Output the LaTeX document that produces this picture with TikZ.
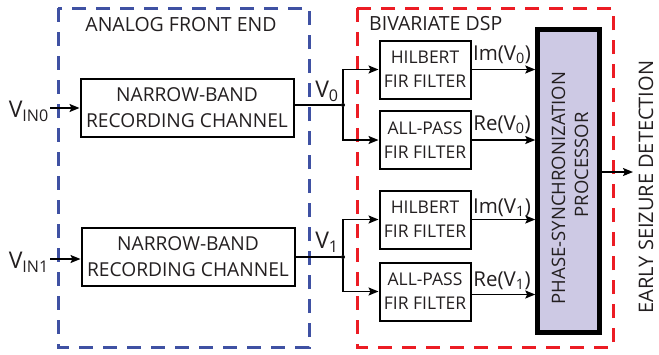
\documentclass[tikz,border=0pt]{standalone}
\usepackage{fontspec}
\setmainfont{Open Sans}
\usetikzlibrary{arrows.meta,calc}
\definecolor{afeblue}{RGB}{63,81,163}
\definecolor{dspred}{RGB}{236,28,36}
\definecolor{procfill}{RGB}{205,201,228}
\definecolor{txt}{RGB}{35,31,32}
\tikzset{
  blk/.style={draw=black,line width=2pt,rectangle,align=center,inner sep=0pt,text=txt},
  chbox/.style={blk,minimum width=213pt,minimum height=58pt,font=\fontsize{19.2}{26}\selectfont},
  firbox/.style={blk,minimum width=91pt,minimum height=58pt,font=\fontsize{17.5}{24}\selectfont},
  grp/.style={line width=3pt,dash pattern=on 14pt off 10pt},
  wire/.style={line width=1.6pt},
  arr/.style={wire,-{Stealth[length=10pt,width=8pt,inset=2pt]}},
  lbl/.style={text=txt,inner sep=0pt,font=\fontsize{20.5}{22}\selectfont},
  vlbl/.style={text=txt,inner sep=0pt,font=\fontsize{23}{24}\selectfont},
  dot/.style={circle,fill=black,inner sep=0pt,minimum size=4pt}
}
\begin{document}
\begin{tikzpicture}[x=1pt,y=-1pt]
\useasboundingbox[fill=white] (0,0) rectangle (659,354);
% group frames
\draw[grp,afeblue] (58,8) rectangle (309,347);
\draw[grp,dspred] (357,8) rectangle (613,347);
\node[lbl,font=\fontsize{19.5}{20}\selectfont] (afe) at (181,25) {ANALOG FRONT END};
\node[lbl,font=\fontsize{19.5}{20}\selectfont,anchor=west] (dsp) at (369,24) {BIVARIATE DSP};
% analog channels
\node[chbox] (ch0) at (187,107.5) {NARROW-BAND\\RECORDING CHANNEL};
\node[chbox] (ch1) at (188,257) {NARROW-BAND\\RECORDING CHANNEL};
% filters
\node[firbox] (hil0) at (425,69.5) {HILBERT\\FIR FILTER};
\node[firbox] (ap0) at (425,140) {ALL-PASS\\FIR FILTER};
\node[firbox] (hil1) at (425,219.5) {HILBERT\\FIR FILTER};
\node[firbox] (ap1) at (425,291.5) {ALL-PASS\\FIR FILTER};
% processor
\node[draw=black,fill=procfill,line width=4.5pt,minimum width=62pt,minimum height=303pt,inner sep=0pt] (proc) at (568.5,181) {};
\node[lbl,rotate=90,align=center,font=\fontsize{18.5}{23}\selectfont] (proctext) at (570,188) {PHASE-SYNCHRONIZATION\\\hspace*{46pt}PROCESSOR};
% junctions and terminals
\node[dot] (j0) at (343,105) {};
\node[dot] (j1) at (343,257) {};
\coordinate (in0) at (50,108);
\coordinate (in1) at (50,259);
\coordinate (out) at (633,172);
% inputs
\node[vlbl,anchor=east] (vin0) at (49,111) {V\textsubscript{IN0}};
\node[vlbl,anchor=east] (vin1) at (49,262) {V\textsubscript{IN1}};
\draw[arr] (in0) -- (in0 -| ch0.west);
\draw[arr] (in1) -- (in1 -| ch1.west);
% channel outputs
\draw[wire] (ch0.east |- j0) -- (j0);
\draw[wire] (ch1.east |- j1) -- (j1);
\node[vlbl] (v0) at (327,91) {V\textsubscript{0}};
\node[vlbl] (v1) at (327,242) {V\textsubscript{1}};
% branches
\draw[arr] (j0) |- (hil0.west);
\draw[arr] (j0) |- (ap0.west);
\draw[arr] (j1) |- (hil1.west);
\draw[arr] (j1) |- (ap1.west);
% filter outputs
\draw[arr] (hil0.east) -- (hil0.east -| proc.west);
\draw[arr] (ap0.east) -- (ap0.east -| proc.west);
\draw[arr] (hil1.east) -- (hil1.east -| proc.west);
\draw[arr] ([yshift=-3pt]ap1.east) -- ([yshift=-3pt]ap1.east -| proc.west);
\node[lbl] (im0) at (502,55) {Im(V\textsubscript{0})};
\node[lbl] (re0) at (502,125) {Re(V\textsubscript{0})};
\node[lbl] (im1) at (502,208) {Im(V\textsubscript{1})};
\node[lbl] (re1) at (502,281) {Re(V\textsubscript{1})};
% output
\draw[arr] (proc.east |- out) -- (out);
\node[lbl,rotate=90,anchor=base,font=\fontsize{20}{22}\selectfont] (det) at (653,187) {EARLY SEIZURE DETECTION};
\end{tikzpicture}
\end{document}
